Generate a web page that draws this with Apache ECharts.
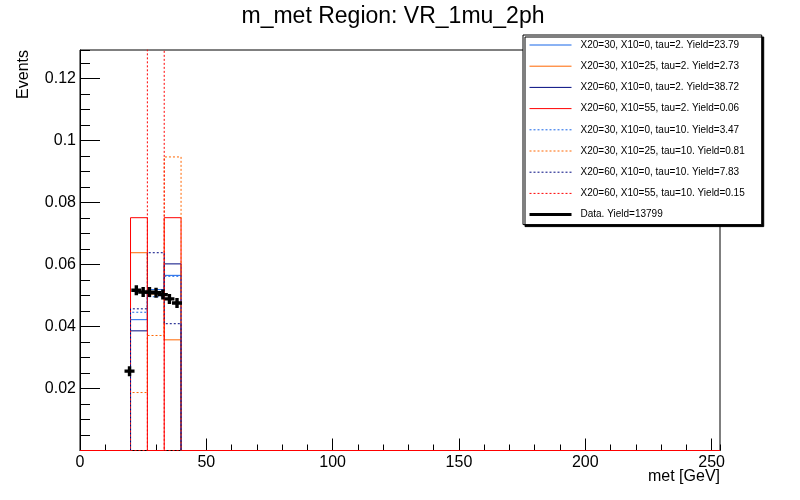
<!DOCTYPE html>
<html>
<head>
<meta charset="utf-8">
<script src="https://cdn.jsdelivr.net/npm/echarts@6/dist/echarts.min.js"></script>
<style>
html,body{margin:0;padding:0;background:#fff;}
#chart{width:800px;height:500px;}
</style>
</head>
<body>
<div id="chart"></div>
<script>
// ---- data ----
const X_RANGE = [0, 253.33];
const Y_RANGE = [0, 0.1292];
const BIN_EDGES = [20, 26.667, 33.333, 40];

const names = [
  'X20=30, X10=0, tau=2. Yield=23.79',
  'X20=30, X10=25, tau=2. Yield=2.73',
  'X20=60, X10=0, tau=2. Yield=38.72',
  'X20=60, X10=55, tau=2. Yield=0.06',
  'X20=30, X10=0, tau=10. Yield=3.47',
  'X20=30, X10=25, tau=10. Yield=0.81',
  'X20=60, X10=0, tau=10. Yield=7.83',
  'X20=60, X10=55, tau=10. Yield=0.15'
];
const dataName = 'Data. Yield=13799';

const h_30_0_t2   = [0.0422, 0.0519, 0.0565];
const h_30_25_t2  = [0.0638, 0.0505, 0.0357];
const h_60_0_t2   = [0.0386, 0.0512, 0.0602];
const h_60_55_t2  = [0.0751, 0.0000, 0.0751];
const h_30_0_t10  = [0.0446, 0.0496, 0.0562];
const h_30_25_t10 = [0.0187, 0.0371, 0.0947];
const h_60_0_t10  = [0.0457, 0.0638, 0.0409];
const h_60_55_t10 = [0.0000, 0.1500, 0.0000];

const dataX = [19.6, 22.3, 25.0, 27.5, 30.1, 32.8, 35.4, 38.4];
const dataY = [0.0256, 0.0517, 0.0511, 0.0511, 0.0509, 0.0503, 0.0489, 0.0476];

// ---- styles ----
const FONT = 'Liberation Sans, Arial, Helvetica, sans-serif';
const colors = ['#1766e8', '#ff6600', '#000a80', '#ff0000', '#1766e8', '#ff6600', '#000a80', '#ff0000'];
const dashes = ['solid', 'solid', 'solid', 'solid', [2, 2], [2, 2], [2, 2], [2, 2]];
const hists = [h_30_0_t2, h_30_25_t2, h_60_0_t2, h_60_55_t2, h_30_0_t10, h_30_25_t10, h_60_0_t10, h_60_55_t10];

function histPoints(vals, fullRange) {
  const pts = fullRange ? [[X_RANGE[0], 0]] : [[BIN_EDGES[0], 0]];
  for (let i = 0; i < vals.length; i++) pts.push([BIN_EDGES[i], vals[i]]);
  pts.push([BIN_EDGES[BIN_EDGES.length - 1], 0]);
  if (fullRange) pts.push([X_RANGE[1], 0]);
  return pts;
}

const series = hists.map((h, i) => ({
  name: names[i],
  type: 'line',
  step: 'end',
  data: histPoints(h, dashes[i] === 'solid'),
  showSymbol: false,
  symbol: 'none',
  silent: true,
  clip: dashes[i] !== 'solid',
  lineStyle: { color: colors[i], width: 1, type: dashes[i], opacity: 1 },
  itemStyle: { color: colors[i] },
  xAxisIndex: 0, yAxisIndex: 0,
  z: 2 + i * 0.01
}));

series.push({
  name: dataName,
  type: 'scatter',
  data: dataX.map((x, i) => [x, dataY[i]]),
  symbol: 'path://M3.3,0H6.7V3.3H10V6.7H6.7V10H3.3V6.7H0V3.3H3.3Z',
  symbolSize: 10,
  itemStyle: { color: '#000', opacity: 1 },
  silent: true,
  xAxisIndex: 0, yAxisIndex: 0,
  z: 5
});

const legendData = names.map((n, i) => ({
  name: n,
  lineStyle: { color: colors[i], width: 1, type: dashes[i], opacity: 1 }
}));
legendData.push({ name: dataName, icon: 'rect', itemStyle: { color: '#000', opacity: 1 } });

const isMult = (v, step) => Math.abs(v / step - Math.round(v / step)) < 1e-6;

const option = {
  animation: false,
  backgroundColor: '#fff',
  title: {
    text: 'm_met Region: VR_1mu_2ph',
    left: 393, textAlign: 'center', top: 5, padding: 0,
    textStyle: { fontFamily: FONT, fontSize: 23, fontWeight: 'normal', color: '#000' }
  },
  grid: {
    left: 80, right: 80, top: 50, bottom: 49.5,
    show: true, borderColor: '#000', borderWidth: 1,
    containLabel: false, outerBoundsMode: 'none'
  },
  legend: {
    orient: 'vertical', left: 523, top: 35,
    padding: [4, 17, 4, 6],
    itemWidth: 42, itemHeight: 3, itemGap: 9.2,
    backgroundColor: '#fff', borderColor: '#000', borderWidth: 1, borderRadius: 0,
    shadowColor: '#000', shadowBlur: 0, shadowOffsetX: 2, shadowOffsetY: 2,
    selectedMode: false,
    itemStyle: { opacity: 0 },
    lineStyle: { width: 1 },
    textStyle: { fontFamily: FONT, fontSize: 10, color: '#000', lineHeight: 12, padding: [0, 0, 0, 4] },
    data: legendData
  },
  xAxis: [
    {
      type: 'value', min: X_RANGE[0], max: X_RANGE[1], interval: 10, position: 'bottom',
      axisLine: { show: true, lineStyle: { color: '#000', width: 1 } },
      axisTick: { show: true, inside: true, length: 6, lineStyle: { color: '#000', width: 1 } },
      axisLabel: { show: false }, splitLine: { show: false }
    },
    {
      type: 'value', min: X_RANGE[0], max: X_RANGE[1], interval: 50, position: 'bottom', offset: 0,
      axisLine: { show: false },
      axisTick: { show: true, inside: true, length: 12, lineStyle: { color: '#000', width: 1 } },
      axisLabel: {
        show: true, margin: 4, color: '#000', fontFamily: FONT, fontSize: 16,
        showMaxLabel: false, hideOverlap: false,
        formatter: v => isMult(v, 50) ? String(Math.round(v)) : ''
      },
      splitLine: { show: false },
      name: 'met [GeV]', nameLocation: 'end', nameGap: 0, nameMoveOverlap: false,
      nameTextStyle: { fontFamily: FONT, fontSize: 16, color: '#000', align: 'right', verticalAlign: 'top', padding: [18, 0, 0, 0] }
    }
  ],
  yAxis: [
    {
      type: 'value', min: Y_RANGE[0], max: Y_RANGE[1], interval: 0.005, position: 'left',
      axisLine: { show: true, lineStyle: { color: '#000', width: 1 } },
      axisTick: { show: true, inside: true, length: 10, lineStyle: { color: '#000', width: 1 } },
      axisLabel: { show: false }, splitLine: { show: false }
    },
    {
      type: 'value', min: Y_RANGE[0], max: Y_RANGE[1], interval: 0.02, position: 'left', offset: 0,
      axisLine: { show: false },
      axisTick: { show: true, inside: true, length: 20, lineStyle: { color: '#000', width: 1 } },
      axisLabel: {
        show: true, margin: 4, color: '#000', fontFamily: FONT, fontSize: 16,
        showMaxLabel: false, hideOverlap: false,
        formatter: v => (v > 0 && isMult(v, 0.02)) ? String(+v.toFixed(2)) : ''
      },
      splitLine: { show: false },
      name: 'Events', nameLocation: 'end', nameGap: 0, nameRotate: 90, nameMoveOverlap: false,
      nameTextStyle: { fontFamily: FONT, fontSize: 16, color: '#000', align: 'right', verticalAlign: 'bottom', padding: [0, 0, 48, 0] }
    }
  ],
  series: series
};

const chart = echarts.init(document.getElementById('chart'), null, { renderer: 'canvas' });
chart.setOption(option);
</script>
</body>
</html>
